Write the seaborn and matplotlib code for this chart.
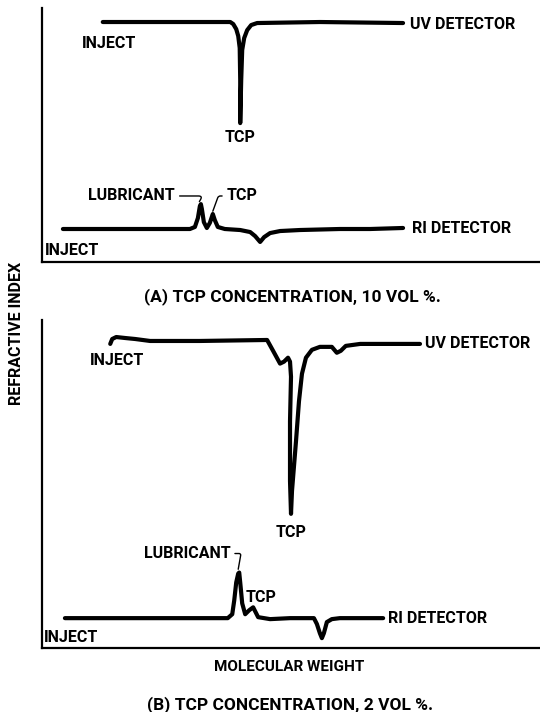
import seaborn as sns
import matplotlib.pyplot as plt

# Panel A (10 vol %) traces (arbitrary elution / response units)
uv_a_x = [12.2, 37.8, 38.4, 39.0, 39.4, 39.7, 39.8, 39.8, 40.0, 40.2, 40.6, 41.2, 42.0, 43.2, 55.8, 72.5]
uv_a_y = [94.5, 94.5, 93.7, 91.7, 89.0, 84.3, 71.7, 54.7, 71.7, 83.5, 88.2, 91.3, 93.3, 94.1, 94.5, 94.1]

ri_a_x = [4.2, 29.7, 30.7, 31.3, 31.7, 31.9, 32.1, 32.5, 33.1, 33.7, 34.3, 34.7, 35.3, 36.7,
          39.8, 41.8, 42.8, 43.8, 44.6, 45.8, 47.8, 51.8, 59.8, 65.9, 72.5]
ri_a_y = [13.0, 13.0, 13.8, 17.3, 22.0, 22.8, 20.9, 15.7, 13.4, 15.4, 18.9, 16.5, 13.8, 13.0,
          12.6, 11.8, 10.2, 7.9, 9.8, 11.4, 12.2, 12.6, 13.0, 13.0, 13.4]

# Panel B (2 vol %) traces
uv_b_x = [13.7, 14.1, 14.9, 16.7, 18.7, 21.7, 31.7, 45.2, 46.4, 47.8, 48.6, 49.4, 49.8, 50.0,
          49.8, 49.8, 50.0, 50.2, 51.0, 51.6, 52.2, 53.0, 54.2, 55.8, 58.2, 59.2, 60.0, 61.0,
          63.9, 75.9]
uv_b_y = [92.7, 94.2, 94.8, 94.5, 94.2, 93.6, 93.6, 93.9, 90.6, 86.7, 87.3, 88.5, 87.3, 82.7,
          69.1, 50.9, 40.9, 47.9, 63.0, 75.2, 83.6, 88.5, 90.9, 91.8, 91.8, 90.0, 90.6, 92.1,
          92.7, 92.7]

ri_b_x = [4.6, 37.3, 38.2, 38.6, 39.0, 39.4, 39.6, 39.8, 40.2, 40.8, 41.6, 42.4, 42.8, 43.4,
          45.8, 49.8, 54.6, 55.2, 55.8, 56.2, 56.6, 57.2, 58.2, 59.8, 68.5]
ri_b_y = [9.1, 9.1, 10.3, 14.5, 20.0, 22.7, 23.0, 20.0, 13.6, 10.3, 11.5, 12.4, 11.2, 9.4,
          8.8, 9.1, 9.1, 7.3, 4.5, 3.0, 4.5, 7.9, 8.8, 9.1, 9.1]

caption_a = "(A) TCP CONCENTRATION, 10 VOL %."
caption_b = "(B) TCP CONCENTRATION, 2 VOL %."

sns.set_style("white")
plt.rcParams['font.family'] = ['Roboto', 'DejaVu Sans']
plt.rcParams['font.weight'] = 'bold'
plt.rcParams['text.color'] = 'black'

fig = plt.figure(figsize=(5.4, 7.12), dpi=100)
ax_a = fig.add_axes([0.0778, 0.6320, 0.9222, 0.3567])
ax_b = fig.add_axes([0.0778, 0.0899, 0.9222, 0.4607])

FS = 11.5
trace_kw = dict(color='black', lw=3, sort=False, estimator=None, legend=False)

for ax in (ax_a, ax_b):
    ax.set_xlim(0, 100)
    ax.set_ylim(0, 100)
    ax.set_xticks([])
    ax.set_yticks([])
    for s in ('top', 'right'):
        ax.spines[s].set_visible(False)
    for s in ('left', 'bottom'):
        ax.spines[s].set_color('black')
        ax.spines[s].set_linewidth(1.6)

# Panel A
sns.lineplot(x=uv_a_x, y=uv_a_y, ax=ax_a, **trace_kw)
sns.lineplot(x=ri_a_x, y=ri_a_y, ax=ax_a, **trace_kw)
ax_a.set_xlabel('')
ax_a.set_ylabel('')
ax_a.text(8.0, 86.2, 'INJECT', fontsize=FS, va='center', ha='left')
ax_a.text(73.9, 93.7, 'UV DETECTOR', fontsize=FS, va='center', ha='left')
ax_a.text(39.8, 49.2, 'TCP', fontsize=FS, va='center', ha='center')
ax_a.annotate('LUBRICANT', xy=(31.6, 23.8), xytext=(26.7, 26.0), fontsize=FS,
              va='center', ha='right',
              arrowprops=dict(arrowstyle='-', lw=1, color='black', relpos=(1, 0.5),
                              shrinkA=1, shrinkB=0,
                              connectionstyle='angle,angleA=0,angleB=60,rad=4'))
ax_a.annotate('TCP', xy=(34.3, 20.0), xytext=(37.1, 26.0), fontsize=FS,
              va='center', ha='left',
              arrowprops=dict(arrowstyle='-', lw=1, color='black', relpos=(0, 0.5),
                              shrinkA=1, shrinkB=0,
                              connectionstyle='angle,angleA=180,angleB=70,rad=2'))
ax_a.text(74.3, 13.0, 'RI DETECTOR', fontsize=FS, va='center', ha='left')
ax_a.text(0.6, 4.7, 'INJECT', fontsize=FS, va='center', ha='left')

# Panel B
sns.lineplot(x=uv_b_x, y=uv_b_y, ax=ax_b, **trace_kw)
sns.lineplot(x=ri_b_x, y=ri_b_y, ax=ax_b, **trace_kw)
ax_b.set_xlabel('')
ax_b.set_ylabel('')
ax_b.text(9.6, 87.6, 'INJECT', fontsize=FS, va='center', ha='left')
ax_b.text(76.9, 92.7, 'UV DETECTOR', fontsize=FS, va='center', ha='left')
ax_b.text(50.0, 35.2, 'TCP', fontsize=FS, va='center', ha='center')
ax_b.annotate('LUBRICANT', xy=(39.4, 24.0), xytext=(37.8, 28.8), fontsize=FS,
              va='center', ha='right',
              arrowprops=dict(arrowstyle='-', lw=1, color='black', relpos=(1, 0.5),
                              shrinkA=1, shrinkB=0,
                              connectionstyle='angle,angleA=0,angleB=80,rad=2'))
ax_b.text(40.8, 15.5, 'TCP', fontsize=FS, va='center', ha='left')
ax_b.text(69.5, 9.1, 'RI DETECTOR', fontsize=FS, va='center', ha='left')
ax_b.text(0.4, 3.3, 'INJECT', fontsize=FS, va='center', ha='left')

# Figure-level labels
fig.text(0.541, 0.583, caption_a, fontsize=12.5, ha='center', va='center')
fig.text(0.030, 0.531, 'REFRACTIVE INDEX', fontsize=11.5, rotation=90, ha='center', va='center')
fig.text(0.535, 0.063, 'MOLECULAR WEIGHT', fontsize=11, ha='center', va='center')
fig.text(0.537, 0.0105, caption_b, fontsize=12.5, ha='center', va='center')

fig.savefig('out.png', dpi=100, facecolor='white')
plt.close(fig)
